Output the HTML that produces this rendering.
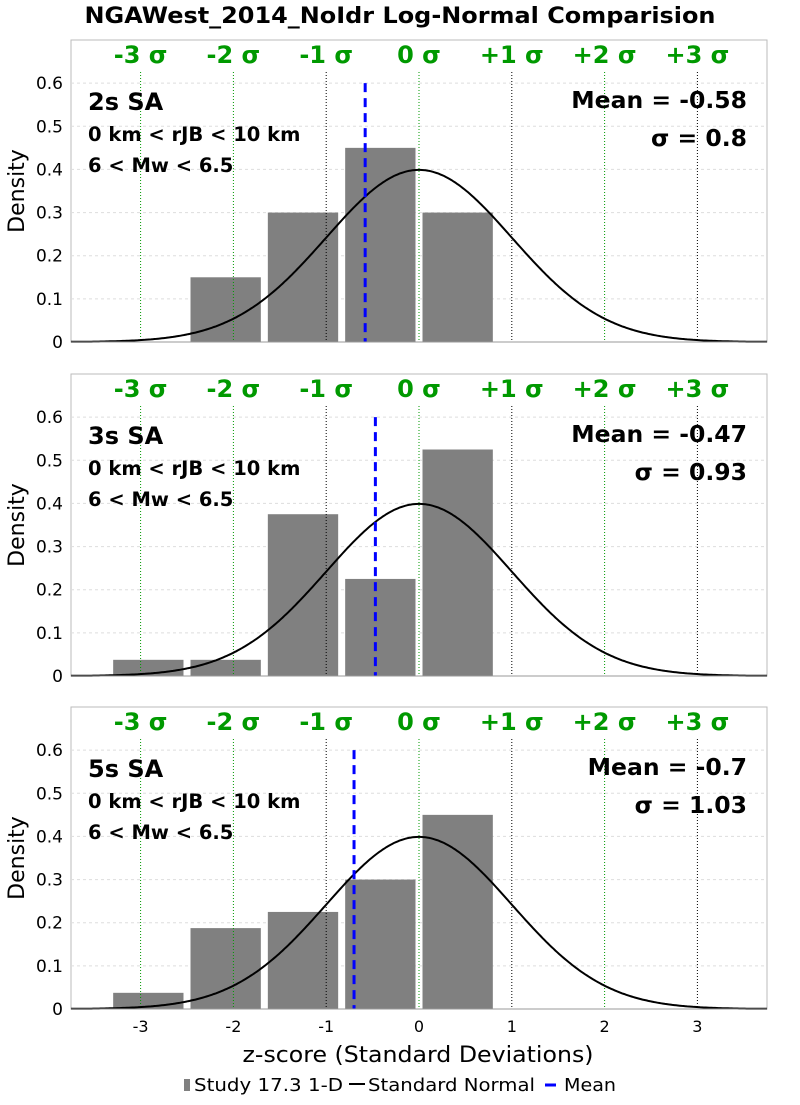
<!DOCTYPE html>
<html><head><meta charset="utf-8"><style>
body{margin:0;background:#fff}
svg{font-family:"DejaVu Sans","Liberation Sans",sans-serif}
</style></head><body>
<svg id="chart" width="800" height="1100" xmlns="http://www.w3.org/2000/svg">
<text x="400" y="23" text-anchor="middle" font-size="22" font-weight="bold" textLength="631" lengthAdjust="spacingAndGlyphs">NGAWest_2014_NoIdr Log-Normal Comparision</text>
<text x="418" y="1062" text-anchor="middle" font-size="22" textLength="351" lengthAdjust="spacingAndGlyphs">z-score (Standard Deviations)</text>
<g font-size="18">
<rect x="184" y="1079" width="6" height="12" fill="#808080"/>
<text x="194" y="1091" textLength="149" lengthAdjust="spacingAndGlyphs">Study 17.3 1-D</text>
<line x1="349" y1="1084" x2="365" y2="1084" stroke="#000" stroke-width="2"/>
<text x="368" y="1091" textLength="167" lengthAdjust="spacingAndGlyphs">Standard Normal</text>
<line x1="545" y1="1085" x2="556" y2="1085" stroke="#00f" stroke-width="3"/>
<text x="564" y="1091" textLength="52" lengthAdjust="spacingAndGlyphs">Mean</text>
</g>
</svg>
<script>
const periods = ["2s SA","3s SA","5s SA"];
const binCenters = [-2.9167,-2.0833,-1.25,-0.4167,0.4167];
const values1 = [0,0.15,0.30,0.45,0.30];
const values2 = [0.0375,0.0375,0.375,0.225,0.525];
const values3 = [0.0375,0.1875,0.225,0.30,0.45];
const means = [-0.58,-0.47,-0.7];
const sigmaLabels = ["0.8","0.93","1.03"];
const meanLabels = ["-0.58","-0.47","-0.7"];
const yTicks = [0,0.1,0.2,0.3,0.4,0.5,0.6];
const xTicks = [-3,-2,-1,0,1,2,3];
const sigmaNames = ["-3 σ","-2 σ","-1 σ","0 σ","+1 σ","+2 σ","+3 σ"];
const sigmaColors = ["#090","#090","#000","#090","#000","#090","#000"];
const allValues = [values1,values2,values3];
const binWidth = 0.8333;

const NS="http://www.w3.org/2000/svg";
const svg=document.getElementById('chart');
function mk(tag,attrs,parent,txt){const e=document.createElementNS(NS,tag);for(const k in attrs)e.setAttribute(k,attrs[k]);if(txt!==undefined)e.textContent=txt;(parent||svg).appendChild(e);return e;}
const L=71,R=767,X0=-3.75,X1=3.75;
const xs=v=>L+(v-X0)/(X1-X0)*(R-L);
const tops=[40,374,707],H=302;
tops.forEach((top,p)=>{
  const bot=top+H;
  const ys=v=>bot-v/0.7*H;
  const g=mk('g',{});
  
  
  const fr=mk('rect',{x:L,y:top,width:R-L,height:H,fill:'#fff',stroke:'#bbb'},g);
  
  
  yTicks.forEach(t=>{
    if(t>0){const gl=mk('line',{x1:L,x2:R,y1:ys(t),y2:ys(t),stroke:'#ddd','stroke-dasharray':'3,3'},g);
    
    }
    const tl=mk('text',{x:63,y:ys(t)+6,'text-anchor':'end','font-size':17},g,String(t));
    
    
  });
  const yt=mk('text',{x:0,y:0,'font-size':22,'text-anchor':'middle',transform:`translate(24,${top+H/2}) rotate(-90)`},g,'Density');
  
  
  allValues[p].forEach((v,i)=>{
    if(v<=0)return;
    const x0=xs(binCenters[i]-binWidth/2)+3.5,x1=xs(binCenters[i]+binWidth/2)-3.5;
    const b=mk('rect',{x:x0,y:ys(v),width:x1-x0,height:bot-ys(v),fill:'#808080'},g);
    
    
  });
  xTicks.forEach((t,i)=>{
    const sl=mk('line',{x1:xs(t),x2:xs(t),y1:top+32,y2:bot,stroke:sigmaColors[i],'stroke-width':1,'stroke-dasharray':'1,2'},g);
    
    
    const st=mk('text',{x:xs(t),y:top+23,'text-anchor':'middle','font-size':24,'font-weight':'bold',fill:'#090'},g,sigmaNames[i]);
    
    
  });
  let d='';
  for(let z=X0;z<=X1+1e-9;z+=0.02){const y=Math.exp(-z*z/2)/Math.sqrt(2*Math.PI);d+=(d?'L':'M')+xs(z).toFixed(1)+','+ys(y).toFixed(1);}
  const c=mk('path',{d,fill:'none',stroke:'#000','stroke-width':2},g);
  
  
  const ml=mk('line',{x1:xs(means[p]),x2:xs(means[p]),y1:ys(0.6),y2:bot,stroke:'#00f','stroke-width':3,'stroke-dasharray':'9,6'},g);
  
  
  const a=mk('line',{x1:L,x2:R,y1:bot,y2:bot,stroke:'#999'},g);
  
  
  const t1=mk('text',{x:88,y:top+70,'font-size':24,'font-weight':'bold'},g,periods[p]);
  
  
  const t2=mk('text',{x:88,y:top+101,'font-size':19.5,'font-weight':'bold'},g,'0 km < rJB < 10 km');
  
  
  const t3=mk('text',{x:88,y:top+132,'font-size':19.5,'font-weight':'bold'},g,'6 < Mw < 6.5');
  
  
  const t4=mk('text',{x:747,y:top+68,'font-size':23.5,'font-weight':'bold','text-anchor':'end'},g,'Mean = '+meanLabels[p]);
  
  
  const t5=mk('text',{x:747,y:top+106,'font-size':23.5,'font-weight':'bold','text-anchor':'end'},g,'σ = '+sigmaLabels[p]);
  
  
});
xTicks.forEach(t=>{
  const tl=mk('text',{x:xs(t),y:1032,'text-anchor':'middle','font-size':16},svg,String(t));
  
  
});
</script>
</body></html>
